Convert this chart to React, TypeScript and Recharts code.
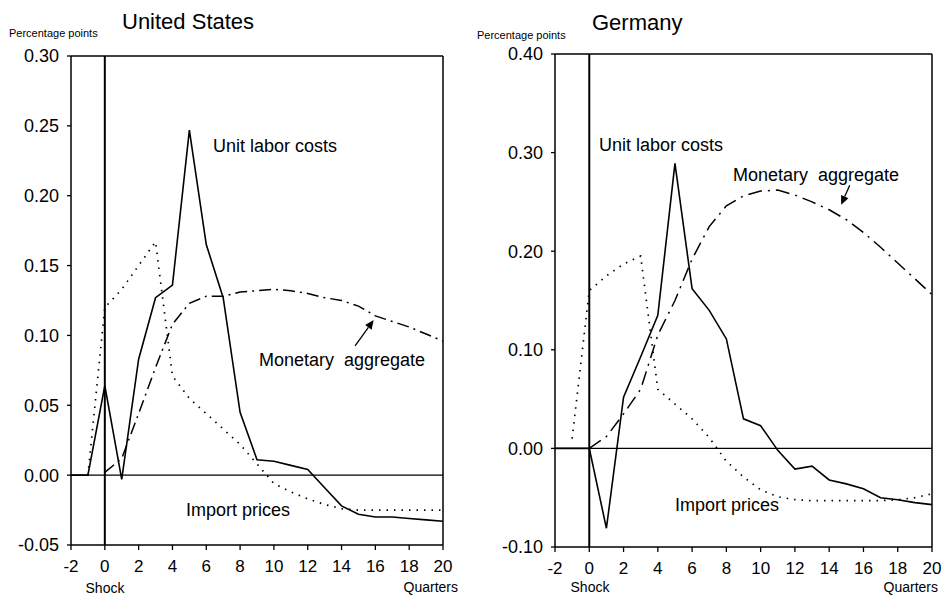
import React from "react";
import { LineChart, Line, XAxis, YAxis, ReferenceLine } from "recharts";

const quarters = [-2, -1, 0, 1, 2, 3, 4, 5, 6, 7, 8, 9, 10, 11, 12, 13, 14, 15, 16, 17, 18, 19, 20];
const xTicks = [-2, 0, 2, 4, 6, 8, 10, 12, 14, 16, 18, 20];

const usUlc = [0, 0, 0.064, -0.003, 0.083, 0.127, 0.136, 0.247, 0.165, 0.127, 0.045, 0.011, 0.01, 0.007, 0.004, -0.009, -0.022, -0.028, -0.03, -0.03, -0.031, -0.032, -0.033];
const usImport = [null, 0.0, 0.12, 0.133, 0.15, 0.167, 0.071, 0.055, 0.044, 0.033, 0.022, 0.008, -0.006, -0.012, -0.017, -0.021, -0.024, -0.025, -0.025, -0.025, -0.025, -0.025, -0.025];
const usMoney = [null, null, 0.002, 0.012, 0.044, 0.077, 0.108, 0.123, 0.128, 0.128, 0.131, 0.132, 0.133, 0.132, 0.13, 0.127, 0.125, 0.121, 0.114, 0.11, 0.106, 0.101, 0.096];
const usTicks = [-0.05, 0, 0.05, 0.1, 0.15, 0.2, 0.25, 0.3];

const deUlc = [0, 0, 0, -0.081, 0.052, 0.093, 0.135, 0.289, 0.162, 0.14, 0.111, 0.03, 0.023, -0.002, -0.021, -0.018, -0.032, -0.036, -0.041, -0.05, -0.052, -0.055, -0.057];
const deImport = [null, 0.01, 0.16, 0.175, 0.187, 0.195, 0.06, 0.045, 0.03, 0.011, -0.013, -0.029, -0.042, -0.049, -0.052, -0.053, -0.053, -0.053, -0.053, -0.053, -0.052, -0.05, -0.046];
const deMoney = [null, null, 0.0, 0.012, 0.035, 0.06, 0.115, 0.15, 0.192, 0.225, 0.246, 0.256, 0.261, 0.262, 0.257, 0.25, 0.242, 0.232, 0.219, 0.204, 0.188, 0.172, 0.156];
const deTicks = [-0.1, 0, 0.1, 0.2, 0.3, 0.4];

const FONT = '"Liberation Sans", Arial, Helvetica, sans-serif';

function build(ulc: (number | null)[], imp: (number | null)[], money: (number | null)[]) {
  return quarters.map((q, i) => ({ q, ulc: ulc[i], imp: imp[i], money: money[i] }));
}

const Arrow = (props: any) => {
  const { x1, y1, x2, y2 } = props;
  const ang = Math.atan2(y2 - y1, x2 - x1);
  const L = 9;
  const W = 4;
  const bx = x2 - L * Math.cos(ang);
  const by = y2 - L * Math.sin(ang);
  const px = -Math.sin(ang) * W;
  const py = Math.cos(ang) * W;
  return (
    <g>
      <line x1={x1} y1={y1} x2={bx} y2={by} stroke="#000" strokeWidth={1.3} />
      <polygon points={`${x2},${y2} ${bx + px},${by + py} ${bx - px},${by - py}`} fill="#000" />
    </g>
  );
};

type PanelProps = {
  data: any[];
  width: number;
  margin: any;
  yDomain: [number, number];
  yTicks: number[];
  arrow: { x: number; y: number }[];
  moneyDash: string;
};

function Panel({ data, width, margin, yDomain, yTicks, arrow, moneyDash }: PanelProps) {
  return (
    <LineChart width={width} height={595} data={data} margin={margin}>
      <XAxis
        dataKey="q"
        type="number"
        domain={[-2, 20]}
        ticks={xTicks}
        allowDataOverflow
        height={40}
        tickSize={5}
        tickMargin={10}
        axisLine={{ stroke: "#000", strokeWidth: 1.5 }}
        tickLine={{ stroke: "#000", strokeWidth: 1.3 }}
        tick={{ fontSize: 17, fill: "#000", fontFamily: FONT }}
      />
      <YAxis
        type="number"
        domain={yDomain}
        ticks={yTicks}
        allowDataOverflow
        width={60}
        tickSize={4}
        tickMargin={8}
        tickFormatter={(v: number) => v.toFixed(2)}
        axisLine={{ stroke: "#000", strokeWidth: 1.5 }}
        tickLine={{ stroke: "#000", strokeWidth: 1.3 }}
        tick={{ fontSize: 18, fill: "#000", fontFamily: FONT }}
      />
      <ReferenceLine y={yDomain[1]} stroke="#000" strokeWidth={1.5} />
      <ReferenceLine x={20} stroke="#000" strokeWidth={1.5} />
      <ReferenceLine y={0} stroke="#000" strokeWidth={1.2} />
      <ReferenceLine x={0} stroke="#000" strokeWidth={2} />
      <ReferenceLine segment={arrow} shape={<Arrow />} />
      <Line dataKey="imp" type="linear" stroke="#000" strokeWidth={1.7} strokeDasharray="1.5 6" dot={false} isAnimationActive={false} />
      <Line dataKey="money" type="linear" stroke="#000" strokeWidth={1.5} strokeDasharray={moneyDash} dot={false} isAnimationActive={false} />
      <Line dataKey="ulc" type="linear" stroke="#000" strokeWidth={1.6} dot={false} isAnimationActive={false} />
    </LineChart>
  );
}

const txt = { fontFamily: FONT, fill: "#000" } as const;

export default function App() {
  const us = build(usUlc, usImport, usMoney);
  const de = build(deUlc, deImport, deMoney);
  return (
    <div style={{ position: "absolute", left: 0, top: 0, width: 942, height: 595, background: "#fff", overflow: "hidden" }}>
      <div style={{ position: "absolute", left: 0, top: 0 }}>
        <Panel
          data={us}
          width={470}
          margin={{ top: 56, right: 27, bottom: 10, left: 11 }}
          yDomain={[-0.05, 0.3]}
          yTicks={usTicks}
          arrow={[{ x: 14.8, y: 0.0926 }, { x: 15.9, y: 0.111 }]}
          moneyDash="12 5 2 5"
        />
      </div>
      <div style={{ position: "absolute", left: 470, top: 0 }}>
        <Panel
          data={de}
          width={472}
          margin={{ top: 54, right: 10, bottom: 8, left: 25 }}
          yDomain={[-0.1, 0.4]}
          yTicks={deTicks}
          arrow={[{ x: 15.2, y: 0.267 }, { x: 14.7, y: 0.247 }]}
          moneyDash="14 6 2 6"
        />
      </div>
      <svg width={942} height={595} style={{ position: "absolute", left: 0, top: 0, pointerEvents: "none" }}>
        <text x={122} y={29} fontSize={22} {...txt}>United States</text>
        <text x={9} y={37} fontSize={11} {...txt}>Percentage points</text>
        <text x={213} y={152} fontSize={18} {...txt}>Unit labor costs</text>
        <text x={259} y={366} fontSize={18} {...txt} style={{ whiteSpace: "pre" }}>{"Monetary  aggregate"}</text>
        <text x={186} y={516} fontSize={18} {...txt}>Import prices</text>
        <text x={105} y={593} fontSize={14} textAnchor="middle" {...txt}>Shock</text>
        <text x={458} y={592} fontSize={14} textAnchor="end" {...txt}>Quarters</text>

        <text x={592} y={30} fontSize={22} {...txt}>Germany</text>
        <text x={477} y={39} fontSize={11} {...txt}>Percentage points</text>
        <text x={599} y={151} fontSize={18} {...txt}>Unit labor costs</text>
        <text x={733} y={181} fontSize={18} {...txt} style={{ whiteSpace: "pre" }}>{"Monetary  aggregate"}</text>
        <text x={675} y={511} fontSize={18} {...txt}>Import prices</text>
        <text x={590} y={592} fontSize={14} textAnchor="middle" {...txt}>Shock</text>
        <text x={938} y={592} fontSize={14} textAnchor="end" {...txt}>Quarters</text>
      </svg>
    </div>
  );
}
